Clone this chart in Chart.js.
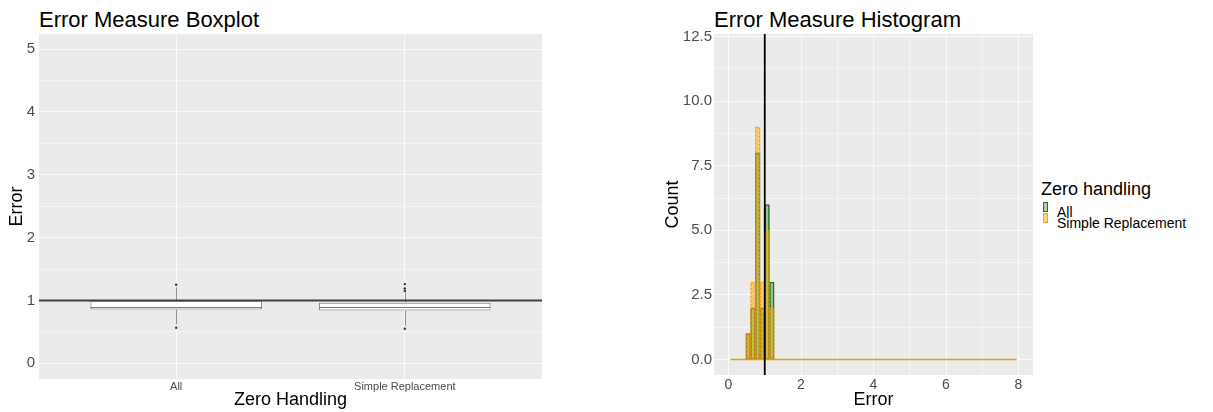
<!DOCTYPE html>
<html>
<head>
<meta charset="utf-8">
<script src="https://cdn.jsdelivr.net/npm/chart.js@4.4.1/dist/chart.umd.min.js"></script>
<style>
  body { margin:0; background:#fff; width:1213px; height:412px; position:relative; overflow:hidden;
         font-family:'Liberation Sans', Arial, Helvetica, sans-serif; }
  canvas { position:absolute; top:0; }
  #boxChart { left:0; }
  #histChart { left:660px; }
  .ptitle { position:absolute; font-size:22px; line-height:22px; color:#000; white-space:nowrap; }
  .legend-title { position:absolute; left:1041px; top:180px; font-size:18px; line-height:18px; color:#000; white-space:nowrap; }
  .legend-label { position:absolute; left:1057px; font-size:14px; line-height:14px; color:#000; white-space:nowrap; }
  .key { position:absolute; left:1043px; width:5px; height:10px; box-sizing:border-box; }
</style>
</head>
<body>
<div class="ptitle" style="left:39px; top:9px;">Error Measure Boxplot</div>
<div class="ptitle" style="left:714px; top:9px;">Error Measure Histogram</div>
<canvas id="boxChart" width="560" height="412"></canvas>
<canvas id="histChart" width="380" height="412"></canvas>
<div class="legend-title">Zero handling</div>
<div class="key" style="top:202px; background:rgba(34,139,34,0.38); border:1px solid #2d6b2d;"></div>
<div class="legend-label" style="top:205px;">All</div>
<div class="key" style="top:213px; background:rgba(255,165,0,0.5); border:1px dashed #f0a030;"></div>
<div class="legend-label" style="top:216px;">Simple Replacement</div>
<script>
// ---------- Boxplot data ----------
const boxCategories = ['All', 'Simple Replacement'];
const boxQ1 = [0.855, 0.84];
const boxMedian = [0.893, 0.90];
const boxQ3 = [0.995, 0.963];
const whiskerLow = [0.62, 0.60];
const whiskerHigh = [1.21, 1.13];
const outliersAll = [0.565, 1.25];
const outliersSimple = [0.55, 1.15, 1.19, 1.26];
const boxRefLine = 1;
const boxYTicks = [0, 1, 2, 3, 4, 5];

// ---------- Histogram data ----------
const binCenters = [0.545, 0.675, 0.805, 0.935, 1.065, 1.195];
const countsAll = [1, 2, 8, 2, 6, 3];
const countsSimple = [1, 3, 9, 3, 5, 2];
const zeroBinRange = [0.05, 7.95];
const histRefLine = 1;
const histXTicks = [0, 2, 4, 6, 8];
const histYTicks = [0, 2.5, 5, 7.5, 10, 12.5];

const FONT = "'Liberation Sans', Arial, Helvetica, sans-serif";
const TICK_COLOR = '#4d4d4d';
const GRID_MAJOR = 'rgba(255,255,255,0.75)';
const GRID_MINOR = 'rgba(255,255,255,0.45)';
const near = (v, arr) => arr.some(a => Math.abs(a - v) < 1e-6);

const panelBg = {
  id: 'panelBg',
  beforeDraw(chart) {
    const { ctx, chartArea: a } = chart;
    ctx.save();
    ctx.fillStyle = '#ebebeb';
    ctx.fillRect(a.left, a.top, a.right - a.left, a.bottom - a.top);
    ctx.restore();
  }
};

// ---------- Boxplot ----------
const boxExtras = {
  id: 'boxExtras',
  beforeDatasetsDraw(chart) {
    const { ctx } = chart;
    const y = chart.scales.y;
    const meta = chart.getDatasetMeta(0);
    ctx.save();
    ctx.strokeStyle = 'rgba(60,60,60,0.55)';
    ctx.lineWidth = 1;
    meta.data.forEach((el, i) => {
      const x = Math.round(el.x) + 0.5;
      ctx.beginPath();
      ctx.moveTo(x, y.getPixelForValue(boxQ3[i]));
      ctx.lineTo(x, y.getPixelForValue(whiskerHigh[i]));
      ctx.moveTo(x, y.getPixelForValue(boxQ1[i]));
      ctx.lineTo(x, y.getPixelForValue(whiskerLow[i]));
      ctx.stroke();
    });
    ctx.restore();
  },
  afterDatasetsDraw(chart) {
    const { ctx, chartArea: a } = chart;
    const y = chart.scales.y;
    const meta = chart.getDatasetMeta(0);
    ctx.save();
    ctx.strokeStyle = '#7a7a7a';
    ctx.lineWidth = 1;
    meta.data.forEach((el, i) => {
      const py = Math.round(y.getPixelForValue(boxMedian[i])) + 0.5;
      ctx.beginPath();
      ctx.moveTo(el.x - el.width / 2, py);
      ctx.lineTo(el.x + el.width / 2, py);
      ctx.stroke();
    });
    const ry = y.getPixelForValue(boxRefLine);
    ctx.strokeStyle = '#404040';
    ctx.lineWidth = 2;
    ctx.beginPath();
    ctx.moveTo(a.left, ry);
    ctx.lineTo(a.right, ry);
    ctx.stroke();
    ctx.restore();
  }
};

const outlierPoints = [];
outliersAll.forEach(v => outlierPoints.push({ x: 0, y: v }));
outliersSimple.forEach(v => outlierPoints.push({ x: 1, y: v }));

new Chart(document.getElementById('boxChart'), {
  type: 'bar',
  data: {
    datasets: [
      {
        type: 'bar',
        data: boxCategories.map((c, i) => ({ x: i, y: [boxQ1[i], boxQ3[i]] })),
        backgroundColor: '#ffffff',
        borderColor: '#7a7a7a',
        borderWidth: 1,
        borderSkipped: false,
        barPercentage: 0.75,
        categoryPercentage: 1,
        order: 2
      },
      {
        type: 'scatter',
        data: outlierPoints,
        pointRadius: 1.2,
        pointBackgroundColor: '#333333',
        pointBorderWidth: 0,
        order: 1
      }
    ]
  },
  options: {
    responsive: false, animation: false, devicePixelRatio: 1, events: [],
    layout: { padding: { top: 34, right: 18, bottom: 0, left: 0 } },
    plugins: { legend: { display: false }, tooltip: { enabled: false } },
    scales: {
      x: {
        type: 'linear', min: -0.6, max: 1.6, offset: false,
        grid: { color: GRID_MAJOR, lineWidth: 1, drawTicks: false, offset: false },
        border: { display: false },
        ticks: { stepSize: 1, includeBounds: false, autoSkip: false, maxRotation: 0, padding: 1,
                 color: TICK_COLOR, font: { family: FONT, size: 11 },
                 callback: v => (boxCategories[v] !== undefined ? boxCategories[v] : '') },
        title: { display: true, text: 'Zero Handling', color: '#000', font: { family: FONT, size: 18 },
                 padding: { top: 0, bottom: 1 } },
        afterFit: s => { s.height = 33; }
      },
      y: {
        type: 'linear', min: -0.25, max: 5.24,
        grid: { color: c => (near(c.tick.value, boxYTicks) ? GRID_MAJOR : GRID_MINOR), lineWidth: 1, drawTicks: false },
        border: { display: false },
        ticks: { stepSize: 0.5, includeBounds: false, autoSkip: false, padding: 4,
                 color: TICK_COLOR, font: { family: FONT, size: 15 },
                 callback: v => (near(v, boxYTicks) ? String(Math.round(v)) : '') },
        title: { display: true, text: 'Error', color: '#000', font: { family: FONT, size: 18 },
                 padding: { top: 6, bottom: 0 } },
        afterFit: s => { s.width = 39; }
      }
    }
  },
  plugins: [panelBg, boxExtras]
});

// ---------- Histogram ----------
const histExtras = {
  id: 'histExtras',
  afterDatasetsDraw(chart) {
    const { ctx, chartArea: a } = chart;
    const meta = chart.getDatasetMeta(0);
    ctx.save();
    ctx.beginPath();
    ctx.rect(a.left, a.top, a.right - a.left, a.bottom - a.top);
    ctx.clip();
    ctx.strokeStyle = 'rgba(235,150,30,0.9)';
    ctx.lineWidth = 1;
    ctx.setLineDash([2, 2]);
    meta.data.forEach(el => {
      const p = el.getProps(['x', 'y', 'base', 'width'], true);
      ctx.strokeRect(p.x - p.width / 2 + 0.5, p.y + 0.5, p.width - 1, p.base - p.y - 1);
    });
    ctx.setLineDash([]);
    const rx = chart.scales.x.getPixelForValue(histRefLine);
    ctx.strokeStyle = '#000000';
    ctx.lineWidth = 1.8;
    ctx.beginPath();
    ctx.moveTo(rx, a.top);
    ctx.lineTo(rx, a.bottom);
    ctx.stroke();
    ctx.restore();
  }
};

new Chart(document.getElementById('histChart'), {
  type: 'bar',
  data: {
    datasets: [
      {
        label: 'Simple Replacement', type: 'bar',
        data: binCenters.map((x, i) => ({ x: x, y: countsSimple[i] })),
        backgroundColor: 'rgba(255,165,0,0.5)',
        borderWidth: 0,
        grouped: false, barPercentage: 1, categoryPercentage: 1,
        order: 1
      },
      {
        label: 'All', type: 'bar',
        data: binCenters.map((x, i) => ({ x: x, y: countsAll[i] })),
        backgroundColor: 'rgba(34,139,34,0.38)',
        borderColor: '#2d6b2d',
        borderWidth: 1, borderSkipped: false,
        grouped: false, barPercentage: 1, categoryPercentage: 1,
        order: 2
      },
      {
        type: 'line',
        data: zeroBinRange.map(x => ({ x: x, y: 0 })),
        borderColor: '#e6a000', borderWidth: 1.5, pointRadius: 0,
        order: 0
      }
    ]
  },
  options: {
    responsive: false, animation: false, devicePixelRatio: 1, events: [],
    layout: { padding: { top: 34, right: 7, bottom: 0, left: 0 } },
    plugins: { legend: { display: false }, tooltip: { enabled: false } },
    scales: {
      x: {
        type: 'linear', min: -0.4, max: 8.4, offset: false,
        grid: { color: c => (near(c.tick.value, histXTicks) ? GRID_MAJOR : GRID_MINOR), lineWidth: 1, drawTicks: false, offset: false },
        border: { display: false },
        ticks: { stepSize: 1, includeBounds: false, autoSkip: false, maxRotation: 0, padding: 2,
                 color: TICK_COLOR, font: { family: FONT, size: 14 },
                 callback: v => (near(v, histXTicks) ? String(Math.round(v)) : '') },
        title: { display: true, text: 'Error', color: '#000', font: { family: FONT, size: 18 },
                 padding: { top: 0, bottom: 1 } },
        afterFit: s => { s.height = 37; }
      },
      y: {
        type: 'linear', min: -0.6, max: 12.6,
        grid: { color: c => (near(c.tick.value, histYTicks) ? GRID_MAJOR : GRID_MINOR), lineWidth: 1, drawTicks: false },
        border: { display: false },
        ticks: { stepSize: 1.25, includeBounds: false, autoSkip: false, padding: 2,
                 color: TICK_COLOR, font: { family: FONT, size: 15 },
                 callback: v => (near(v, histYTicks) ? v.toFixed(1) : '') },
        title: { display: true, text: 'Count', color: '#000', font: { family: FONT, size: 18 },
                 padding: { top: 2, bottom: 0 } },
        afterFit: s => { s.width = 54; }
      }
    }
  },
  plugins: [panelBg, histExtras]
});
</script>
</body>
</html>
